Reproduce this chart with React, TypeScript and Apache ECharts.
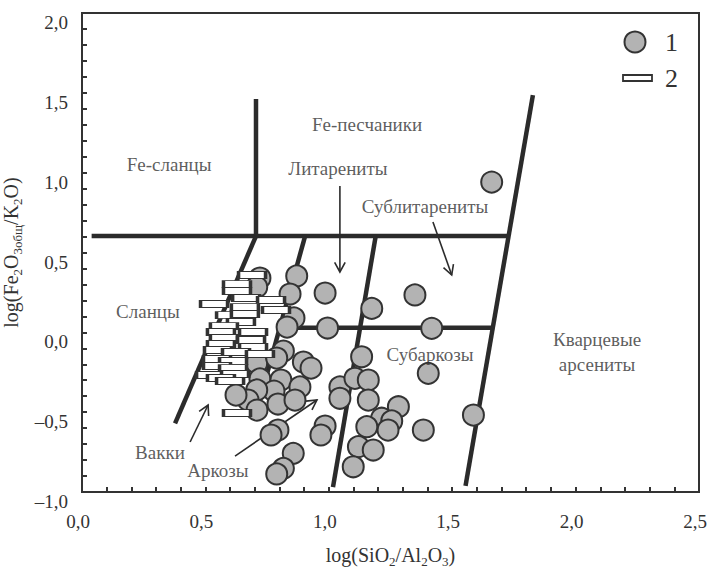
import React, { useEffect, useRef } from "react";
import * as echarts from "echarts";

const FONT = "Liberation Serif";
const INK = "#2b2b2b";
const TEXT = "#333333";
const GRAY = "#b3b3b3";

// Group 1 (circles)
const circleX = [1.660, 0.721, 0.708, 0.870, 0.843, 0.985, 1.349, 1.174, 0.859, 0.831, 0.995, 1.417, 0.816, 0.897, 0.928, 0.708, 0.789, 0.721, 0.806, 0.883, 0.778, 0.708, 0.673, 0.624, 0.709, 0.794, 0.863, 0.794, 0.766, 0.985, 0.968, 0.856, 0.816, 0.789, 1.045, 1.045, 1.133, 1.403, 1.106, 1.160, 1.160, 1.282, 1.586, 1.214, 1.255, 1.240, 1.154, 1.383, 1.120, 1.180, 1.099];
const circleY = [0.941, 0.340, 0.284, 0.353, 0.240, 0.246, 0.234, 0.150, 0.090, 0.033, 0.027, 0.025, -0.117, -0.186, -0.224, -0.192, -0.161, -0.292, -0.299, -0.342, -0.368, -0.361, -0.424, -0.393, -0.487, -0.449, -0.424, -0.612, -0.643, -0.587, -0.643, -0.758, -0.852, -0.887, -0.342, -0.413, -0.153, -0.257, -0.288, -0.299, -0.424, -0.466, -0.518, -0.538, -0.555, -0.612, -0.591, -0.612, -0.716, -0.737, -0.842];

// Group 2 (bars)
const rectX = [0.689, 0.628, 0.628, 0.665, 0.766, 0.535, 0.660, 0.786, 0.600, 0.660, 0.644, 0.575, 0.563, 0.693, 0.575, 0.685, 0.563, 0.693, 0.551, 0.624, 0.721, 0.547, 0.612, 0.547, 0.612, 0.519, 0.620, 0.563, 0.600, 0.628];
const rectY = [0.359, 0.302, 0.259, 0.215, 0.202, 0.177, 0.158, 0.140, 0.108, 0.115, 0.065, 0.039, 0.002, 0.002, -0.036, -0.048, -0.073, -0.092, -0.111, -0.123, -0.136, -0.167, -0.180, -0.211, -0.224, -0.267, -0.261, -0.286, -0.305, -0.505];

// Field boundaries (each: [start, end])
const boundaryX = [[0.039, 1.729], [0.705, 0.705], [0.705, 0.377], [0.904, 0.709], [1.190, 1.017], [0.801, 1.665], [1.827, 1.554]];
const boundaryY = [[0.603, 0.603], [0.603, 1.461], [0.603, -0.570], [0.603, -0.487], [0.603, -0.969], [0.029, 0.029], [1.486, -0.962]];

// Field names
const fieldNames = ["Fe-песчаники", "Fe-сланцы", "Литарениты", "Сублитарениты", "Сланцы", "Субаркозы", "Кварцевые\nарсениты", "Вакки", "Аркозы"];
const fieldX = [1.155, 0.353, 1.037, 1.390, 0.267, 1.410, 2.087, 0.316, 0.551];
const fieldY = [1.304, 1.054, 1.029, 0.785, 0.133, -0.136, -0.123, -0.750, -0.868];

// Pointer arrows
const arrowFromX = [1.045, 1.422, 0.438, 0.620];
const arrowFromY = [0.916, 0.691, -0.687, -0.775];
const arrowToX = [1.045, 1.498, 0.511, 0.952];
const arrowToY = [0.378, 0.359, -0.455, -0.424];

const legendNames = ["1", "2"];

const fmt = (v: number) => v.toFixed(1).replace(".", ",").replace("-", "–");

export default function App() {
  const ref = useRef<HTMLDivElement>(null);
  useEffect(() => {
    document.body.style.margin = "0";
    const chart = echarts.init(ref.current!, null, { renderer: "svg" });

    const lineSeries = boundaryX.map((xs, i) => ({
      type: "line",
      data: [[xs[0], boundaryY[i][0]], [xs[1], boundaryY[i][1]]],
      symbol: "none",
      lineStyle: { color: INK, width: 4.5, cap: "butt" },
      z: 2,
      silent: true,
    }));

    const nameStyle = {
      fontFamily: FONT, fontSize: 20, color: TEXT, lineHeight: 26,
      rich: { s: { fontFamily: FONT, fontSize: 13, color: TEXT, verticalAlign: "bottom" } },
    };

    const option: any = {
      animation: false,
      backgroundColor: "#ffffff",
      textStyle: { fontFamily: FONT },
      grid: {
        left: 82, right: 8, top: 13, bottom: 83,
        outerBoundsMode: "none", containLabel: false,
        show: true, borderColor: "#333", borderWidth: 2, backgroundColor: "transparent",
      },
      xAxis: {
        type: "value", min: 0, max: 2.5, interval: 0.5,
        name: "log(SiO{s|2}/Al{s|2}O{s|3})",
        nameLocation: "middle", nameGap: 50,
        nameTextStyle: nameStyle,
        axisLine: { onZero: false, lineStyle: { color: "#333", width: 2 } },
        axisTick: { inside: true, length: 5, lineStyle: { color: "#333", width: 2 } },
        minorTick: { show: true, splitNumber: 5, length: 5, lineStyle: { color: "#333", width: 2 } },
        splitLine: { show: false },
        axisLabel: {
          fontFamily: FONT, fontSize: 19, color: TEXT, margin: 20,
          padding: [0, 8, 0, 0], formatter: fmt, showMinLabel: true, showMaxLabel: true,
        },
      },
      yAxis: {
        type: "value", min: -1, max: 2, interval: 0.5,
        name: "log(Fe{s|2}O{s|3общ}/K{s|2}O)",
        nameLocation: "middle", nameGap: 48,
        nameTextStyle: nameStyle,
        axisLine: { onZero: false, lineStyle: { color: "#333", width: 2 } },
        axisTick: { inside: true, length: 5, lineStyle: { color: "#333", width: 2 } },
        minorTick: { show: true, splitNumber: 5, length: 5, lineStyle: { color: "#333", width: 2 } },
        splitLine: { show: false },
        axisLabel: {
          fontFamily: FONT, fontSize: 19, color: TEXT, margin: 14,
          verticalAlign: "top", formatter: fmt, showMinLabel: true, showMaxLabel: true,
        },
      },
      series: [
        ...lineSeries,
        {
          type: "custom",
          z: 4,
          silent: true,
          encode: { x: [0, 2], y: [1, 3] },
          data: arrowFromX.map((x, i) => [x, arrowFromY[i], arrowToX[i], arrowToY[i]]),
          renderItem: (params: any, api: any) => {
            const a = api.coord([api.value(0), api.value(1)]);
            const b = api.coord([api.value(2), api.value(3)]);
            const ang = Math.atan2(b[1] - a[1], b[0] - a[0]);
            const L = 11, spread = 0.5;
            const p1 = [b[0] - L * Math.cos(ang - spread), b[1] - L * Math.sin(ang - spread)];
            const p2 = [b[0] - L * Math.cos(ang + spread), b[1] - L * Math.sin(ang + spread)];
            return {
              type: "group",
              children: [
                { type: "line", shape: { x1: a[0], y1: a[1], x2: b[0], y2: b[1] }, style: { stroke: INK, lineWidth: 1.6 } },
                { type: "polyline", shape: { points: [p1, b, p2] }, style: { stroke: INK, fill: "none", lineWidth: 1.6 } },
              ],
            };
          },
        },
        {
          name: legendNames[0],
          type: "scatter",
          z: 5,
          symbol: "circle",
          symbolSize: 21,
          itemStyle: { color: GRAY, borderColor: "#333", borderWidth: 2, opacity: 1 },
          data: circleX.map((x, i) => [x, circleY[i]]),
        },
        {
          name: legendNames[1],
          type: "scatter",
          z: 6,
          symbol: "rect",
          symbolSize: [27, 7],
          itemStyle: { color: "#ffffff", borderColor: "#333", borderWidth: 1.8, opacity: 1 },
          data: rectX.map((x, i) => [x, rectY[i]]),
        },
        {
          type: "scatter",
          z: 7,
          silent: true,
          symbolSize: 0,
          data: fieldNames.map((n, i) => ({ name: n, value: [fieldX[i], fieldY[i]] })),
          label: {
            show: true, position: "inside", formatter: "{b}",
            fontFamily: FONT, fontSize: 19, color: TEXT, lineHeight: 25, align: "center",
          },
        },
      ],
      graphic: [
        { type: "circle", shape: { cx: 635, cy: 42, r: 10.5 }, style: { fill: GRAY, stroke: "#333", lineWidth: 2 }, z: 10 },
        { type: "text", x: 665, y: 42, style: { text: legendNames[0], fontFamily: FONT, fontSize: 26, fill: TEXT, verticalAlign: "middle" }, z: 10 },
        { type: "rect", shape: { x: 623, y: 75, width: 29, height: 6 }, style: { fill: "#fff", stroke: "#333", lineWidth: 1.8 }, z: 10 },
        { type: "text", x: 665, y: 78, style: { text: legendNames[1], fontFamily: FONT, fontSize: 26, fill: TEXT, verticalAlign: "middle" }, z: 10 },
      ],
    };
    chart.setOption(option);
    return () => chart.dispose();
  }, []);
  return <div ref={ref} style={{ width: 707, height: 575 }} />;
}
